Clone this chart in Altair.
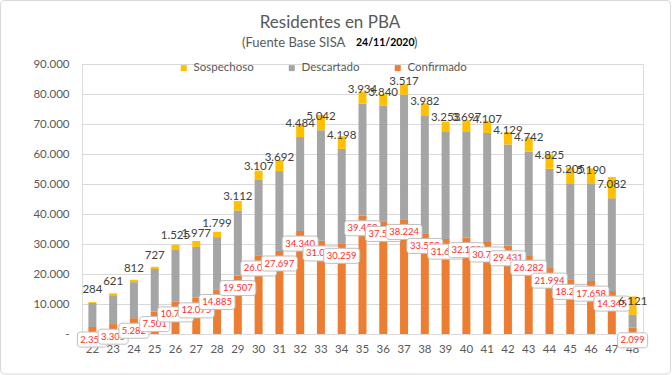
import altair as alt
import pandas as pd

semanas = ["22", "23", "24", "25", "26", "27", "28", "29", "30", "31", "32", "33", "34", "35",
           "36", "37", "38", "39", "40", "41", "42", "43", "44", "45", "46", "47", "48"]
confirmado = [2350, 3305, 5282, 7501, 10730, 12075, 14885, 19507, 26050, 27697, 34340, 31050, 30259, 39450,
              37550, 38224, 33550, 31650, 32150, 30700, 29431, 26282, 21994, 18250, 17658, 14345, 2099]
descartado = [8000, 9640, 12000, 14170, 17500, 16950, 17400, 21680, 25300, 26600, 31300, 36900, 31440, 37400,
              38500, 41560, 39370, 35900, 35450, 36300, 33740, 34580, 33080, 32000, 32350, 30870, 4300]
sospechoso = [284, 621, 812, 727, 1525, 1977, 1799, 3112, 3107, 3692, 4484, 5042, 4198, 3934,
              3840, 3517, 3982, 3253, 3697, 4107, 4129, 4742, 4825, 5205, 5190, 7082, 6121]
series = ["Sospechoso", "Descartado", "Confirmado"]
colores = ["#FFC000", "#A5A5A5", "#ED7D31"]
y_ticks = [0, 10000, 20000, 30000, 40000, 50000, 60000, 70000, 80000, 90000]

FONT = "Lato"
GREY = "#595959"

rows = []
for i, s in enumerate(semanas):
    rows.append({"semana": s, "tipo": "Confirmado", "valor": confirmado[i], "ord": 0})
    rows.append({"semana": s, "tipo": "Descartado", "valor": descartado[i], "ord": 1})
    rows.append({"semana": s, "tipo": "Sospechoso", "valor": sospechoso[i], "ord": 2})
long = pd.DataFrame(rows)
wide = pd.DataFrame({"semana": semanas, "conf": confirmado, "desc": descartado, "sosp": sospechoso})

xaxis = alt.Axis(title=None, labelAngle=0, ticks=False, domain=False, labelFont=FONT,
                 labelFontSize=11.5, labelColor=GREY, labelPadding=9, grid=False)
xscale = alt.Scale(paddingInner=0, paddingOuter=0)
yaxis = alt.Axis(title=None, values=y_ticks,
                 labelExpr="datum.value == 0 ? '-\u00a0\u00a0' : format(datum.value, ',')",
                 ticks=False, domain=False, gridColor="#D9D9D9", gridWidth=1,
                 labelFont=FONT, labelFontSize=11.5, labelColor=GREY, labelPadding=13)
yscale = alt.Scale(domain=[0, 90000], nice=False)


def X():
    return alt.X("semana:O", sort=semanas, scale=xscale, axis=xaxis)


def Y(field, **kw):
    return alt.Y(field, scale=yscale, axis=yaxis, **kw)


bars = alt.Chart(long).mark_bar(width=8).encode(
    x=X(),
    y=Y("valor:Q", stack="zero"),
    color=alt.Color("tipo:N", scale=alt.Scale(domain=series, range=colores),
                    legend=alt.Legend(title=None, orient="none", legendX=96, legendY=-2,
                                      direction="horizontal", symbolType="square", symbolSize=36,
                                      symbolStrokeWidth=0, labelFont=FONT, labelFontSize=11.5,
                                      labelColor=GREY, labelOffset=4, columnPadding=32, padding=0)),
    order=alt.Order("ord:Q"),
)

layers = [bars]
base = alt.Chart(wide)
for i, s in enumerate(semanas):
    n = len(f"{confirmado[i]:,}")
    w = 30 if n <= 5 else 36
    sub = base.transform_filter(alt.datum.semana == s).transform_calculate(
        lo="datum.conf - 6700", hi="datum.conf - 1700", mid="datum.conf - 4200")
    box = sub.mark_bar(width=w, fill="white", stroke="#BFBFBF", strokeWidth=1, cornerRadius=3).encode(
        x=X(), y=Y("lo:Q"), y2="hi:Q")
    txt = sub.mark_text(font=FONT, fontSize=9.5, color="#FF2D2D", baseline="middle").encode(
        x=X(), y=Y("mid:Q"), text=alt.Text("conf:Q", format=","))
    layers += [box, txt]

sosp_lbl = base.transform_calculate(gtop="datum.conf + datum.desc").mark_text(
    font=FONT, fontSize=11.5, color="#404040", baseline="middle", dy=-13).encode(
    x=X(), y=Y("gtop:Q"), text=alt.Text("sosp:Q", format=","))
layers.append(sosp_lbl)

title = alt.Chart(pd.DataFrame({"t": ["Residentes en PBA"]})).mark_text(
    font=FONT, fontSize=17, color=GREY, align="center", baseline="middle").encode(
    text="t:N", x=alt.value(248), y=alt.value(-41))
sub1 = alt.Chart(pd.DataFrame({"t": ["(Fuente Base SISA"]})).mark_text(
    font=FONT, fontSize=13, color=GREY, align="left", baseline="middle").encode(
    text="t:N", x=alt.value(160), y=alt.value(-21))
sub2 = alt.Chart(pd.DataFrame({"t": ["24/11/2020"]})).mark_text(
    font=FONT, fontSize=10.5, fontWeight="bold", color="#000000", align="left", baseline="middle").encode(
    text="t:N", x=alt.value(274), y=alt.value(-21))
sub3 = alt.Chart(pd.DataFrame({"t": [")"]})).mark_text(
    font=FONT, fontSize=13, color=GREY, align="left", baseline="middle").encode(
    text="t:N", x=alt.value(332), y=alt.value(-21))
border = alt.Chart(pd.DataFrame({"a": [0]})).mark_rect(
    fillOpacity=0, stroke="#D9D9D9", strokeWidth=1, cornerRadius=4).encode(
    x=alt.value(-81.5), x2=alt.value(588.5), y=alt.value(-63.5), y2=alt.value(310))

layers += [title, sub1, sub2, sub3, border]

chart = alt.layer(*layers).properties(
    width=561, height=270,
    autosize=alt.AutoSizeParams(type="none"),
    padding={"left": 82, "top": 64, "right": 29, "bottom": 41},
    background="white",
).configure_view(strokeWidth=0).configure(
    locale={"number": {"decimal": ",", "thousands": ".", "grouping": [3], "currency": ["$", ""]}}
)

chart.save("out.html", embed_options={"renderer": "svg", "actions": False})
